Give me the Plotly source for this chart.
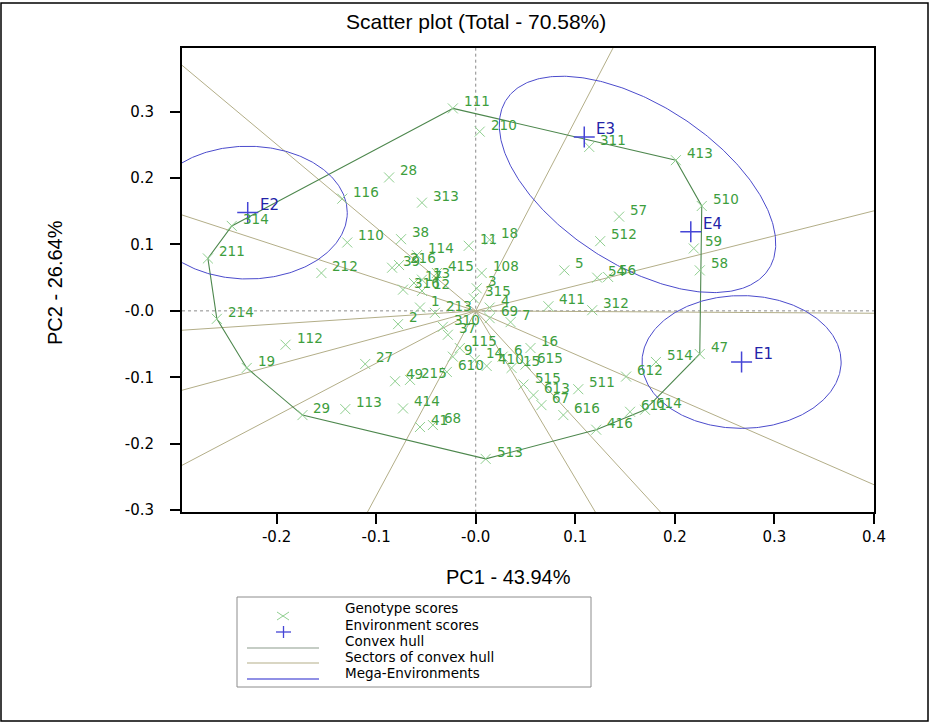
import numpy as np
import plotly.graph_objects as go

# ---------------------------------------------------------------- data
geno_labels = ["111", "210", "311", "413", "510", "57", "512", "59", "58", "5",
               "54", "56", "411", "312", "28", "116", "313", "314", "211", "110",
               "38", "114", "11", "18", "212", "214", "112", "19", "27", "29",
               "113", "49", "215", "414", "41", "68", "2", "1", "213", "310",
               "37", "115", "9", "610", "316", "17", "13", "12", "39", "216",
               "415", "108", "3", "315", "4", "69", "7", "16", "14", "410",
               "6", "15", "615", "515", "613", "67", "511", "616", "416", "612",
               "514", "47", "611", "614", "513"]
geno_pc1 = [-0.023, 0.004, 0.114, 0.201, 0.227, 0.144, 0.125, 0.219, 0.225, 0.089,
            0.122, 0.133, 0.073, 0.117, -0.087, -0.134, -0.054, -0.245, -0.269, -0.129,
            -0.075, -0.059, -0.007, 0.014, -0.155, -0.260, -0.191, -0.230, -0.111, -0.174,
            -0.131, -0.081, -0.066, -0.073, -0.056, -0.043, -0.078, -0.056, -0.041, -0.033,
            -0.028, -0.016, -0.023, -0.029, -0.073, -0.062, -0.054, -0.054, -0.084, -0.077,
            -0.039, 0.006, 0.001, -0.002, 0.014, 0.014, 0.035, 0.055, -0.001, 0.011,
            0.027, 0.036, 0.050, 0.048, 0.058, 0.066, 0.103, 0.088, 0.121, 0.151,
            0.181, 0.225, 0.155, 0.170, 0.010]
geno_pc2 = [0.305, 0.270, 0.247, 0.227, 0.158, 0.142, 0.105, 0.094, 0.061, 0.061,
            0.050, 0.051, 0.007, 0.001, 0.201, 0.169, 0.163, 0.128, 0.079, 0.103,
            0.108, 0.084, 0.098, 0.107, 0.057, -0.012, -0.051, -0.086, -0.080, -0.157,
            -0.148, -0.106, -0.104, -0.147, -0.175, -0.172, -0.020, 0.005, -0.003, -0.024,
            -0.036, -0.056, -0.069, -0.092, 0.032, 0.042, 0.047, 0.030, 0.065, 0.069,
            0.057, 0.057, 0.034, 0.019, 0.005, -0.011, -0.017, -0.056, -0.074, -0.083,
            -0.069, -0.086, -0.081, -0.111, -0.127, -0.142, -0.118, -0.157, -0.179, -0.099,
            -0.077, -0.065, -0.152, -0.149, -0.223]

env_labels = ["E1", "E2", "E3", "E4"]
env_pc1 = [0.267, -0.229, 0.109, 0.216]
env_pc2 = [-0.077, 0.148, 0.262, 0.119]

# genotypes at the vertices of the convex hull, in drawing order
hull_order = ["111", "413", "510", "47", "614", "416", "513", "29", "19", "214", "211", "314"]

# environments grouped into mega-environments
mega_groups = [["E1"], ["E2"], ["E3", "E4"]]
mega_radius = 0.1

x_tickvals = [-0.2, -0.1, 0.0, 0.1, 0.2, 0.3, 0.4]
x_ticktext = ["-0.2", "-0.1", "-0.0", "0.1", "0.2", "0.3", "0.4"]
y_tickvals = [-0.3, -0.2, -0.1, 0.0, 0.1, 0.2, 0.3]
y_ticktext = ["-0.3", "-0.2", "-0.1", "-0.0", "0.1", "0.2", "0.3"]

legend_items = ["Genotype scores", "Environment scores", "Convex hull",
                "Sectors of convex hull", "Mega-Environments"]

# ---------------------------------------------------------------- styling
W, H = 930, 724
ML, MR, MT, MB = 182, 56, 48, 212
PW, PH = W - ML - MR, H - MT - MB

GENO_MARK = "#8fcf8f"
GENO_TEXT = "#3d9e3d"
ENV_MARK = "#4545d6"
ENV_TEXT = "#2323a8"
HULL_COL = "#4d874d"
SECTOR_COL = "#b3ae88"
MEGA_COL = "#4b4bcc"
AXIS_DOT = "#8a8a8a"
SMALL_FONT = "DejaVu Sans"
BIG_FONT = "Liberation Sans, Arial, sans-serif"


def paper_x(px):
    return (px - ML) / PW


def paper_y(py):
    return (H - MB - py) / PH


def paper_line(x0, y0, x1, y1, color, width):
    return dict(type="line", xref="paper", yref="paper",
                x0=paper_x(x0), x1=paper_x(x1), y0=paper_y(y0), y1=paper_y(y1),
                line=dict(color=color, width=width))


fig = go.Figure()

# dotted reference axes through the origin
fig.add_trace(go.Scatter(x=[0, 0, None, -1, 1], y=[-1, 1, None, 0, 0], mode="lines",
                         line=dict(color=AXIS_DOT, width=1, dash="dot"),
                         hoverinfo="skip", showlegend=False))

# convex hull of genotype scores
idx = {lab: i for i, lab in enumerate(geno_labels)}
hx = [geno_pc1[idx[g]] for g in hull_order]
hy = [geno_pc2[idx[g]] for g in hull_order]

# sector rays: from the origin, perpendicular to each hull edge
sx, sy = [], []
n = len(hull_order)
for k in range(n):
    p = np.array([hx[k], hy[k]])
    q = np.array([hx[(k + 1) % n], hy[(k + 1) % n]])
    d = q - p
    t = -p.dot(d) / d.dot(d)
    foot = p + t * d
    u = foot / np.linalg.norm(foot)
    sx += [0.0, 3 * u[0], None]
    sy += [0.0, 3 * u[1], None]
fig.add_trace(go.Scatter(x=sx, y=sy, mode="lines",
                         line=dict(color=SECTOR_COL, width=1),
                         hoverinfo="skip", showlegend=False))

fig.add_trace(go.Scatter(x=hx + [hx[0]], y=hy + [hy[0]], mode="lines",
                         line=dict(color=HULL_COL, width=1.1),
                         hoverinfo="skip", showlegend=False))

# mega-environment outlines
eidx = {lab: i for i, lab in enumerate(env_labels)}
tt = np.linspace(0, 2 * np.pi, 400)
for grp in mega_groups:
    pts = np.array([[env_pc1[eidx[e]], env_pc2[eidx[e]]] for e in grp])
    c = pts.mean(axis=0)
    if len(pts) > 1:
        dv = pts[-1] - pts[0]
        a = np.linalg.norm(dv) / 2 + mega_radius
        ang = np.arctan2(dv[1], dv[0])
    else:
        a, ang = mega_radius, 0.0
    b = mega_radius
    ex = c[0] + a * np.cos(tt) * np.cos(ang) - b * np.sin(tt) * np.sin(ang)
    ey = c[1] + a * np.cos(tt) * np.sin(ang) + b * np.sin(tt) * np.cos(ang)
    fig.add_trace(go.Scatter(x=ex, y=ey, mode="lines",
                             line=dict(color=MEGA_COL, width=1),
                             hoverinfo="skip", showlegend=False))

# genotype and environment scores
fig.add_trace(go.Scatter(x=geno_pc1, y=geno_pc2, mode="markers", text=geno_labels,
                         marker=dict(symbol="x-thin", size=10,
                                     line=dict(color=GENO_MARK, width=1)),
                         showlegend=False))
fig.add_trace(go.Scatter(x=env_pc1, y=env_pc2, mode="markers", text=env_labels,
                         marker=dict(symbol="cross-thin", size=15,
                                     line=dict(color=ENV_MARK, width=1.5)),
                         showlegend=False))

annotations = []
for lab, x, y in zip(geno_labels, geno_pc1, geno_pc2):
    annotations.append(dict(x=x, y=y, xref="x", yref="y", text=lab, showarrow=False,
                            xanchor="left", yanchor="middle", xshift=9, yshift=7,
                            font=dict(family=SMALL_FONT, size=13.5, color=GENO_TEXT)))
for lab, x, y in zip(env_labels, env_pc1, env_pc2):
    annotations.append(dict(x=x, y=y, xref="x", yref="y", text=lab, showarrow=False,
                            xanchor="left", yanchor="middle", xshift=10, yshift=8,
                            font=dict(family=SMALL_FONT, size=15, color=ENV_TEXT)))

# titles
annotations.append(dict(x=paper_x(476), y=paper_y(22), xref="paper", yref="paper",
                        text="Scatter plot (Total - 70.58%)", showarrow=False,
                        xanchor="center", yanchor="middle",
                        font=dict(family=BIG_FONT, size=21, color="black")))
annotations.append(dict(x=paper_x(508), y=paper_y(577), xref="paper", yref="paper",
                        text="PC1 - 43.94%", showarrow=False,
                        xanchor="center", yanchor="middle",
                        font=dict(family=BIG_FONT, size=20, color="black")))
annotations.append(dict(x=paper_x(55), y=paper_y(283), xref="paper", yref="paper",
                        text="PC2 - 26.64%", showarrow=False, textangle=-90,
                        xanchor="center", yanchor="middle",
                        font=dict(family=BIG_FONT, size=20, color="black")))

# legend panel
leg_text_y = [608, 625, 641, 657, 673]
for txt, ty in zip(legend_items, leg_text_y):
    annotations.append(dict(x=paper_x(343), y=paper_y(ty), xref="paper", yref="paper",
                            text=txt, showarrow=False, xanchor="left", yanchor="middle",
                            font=dict(family=SMALL_FONT, size=13.5, color="black")))

shapes = [
    # outer frame of the figure
    dict(type="rect", xref="paper", yref="paper",
         x0=paper_x(1), x1=paper_x(928), y0=paper_y(721), y1=paper_y(3),
         line=dict(color="black", width=1.5)),
    # legend box
    dict(type="rect", xref="paper", yref="paper",
         x0=paper_x(237), x1=paper_x(591), y0=paper_y(687), y1=paper_y(597),
         line=dict(color="#8c8c8c", width=1)),
    # legend glyphs: genotype cross and environment plus
    paper_line(277, 612, 289, 620, GENO_MARK, 1),
    paper_line(277, 620, 289, 612, GENO_MARK, 1),
    paper_line(276, 632, 291, 632, ENV_MARK, 1.3),
    paper_line(283.5, 626, 283.5, 638, ENV_MARK, 1.3),
]
for ly, col, lw in [(648, "#8b9b8b", 1.2), (663, SECTOR_COL, 1.2), (679, "#6b6bdc", 1.6)]:
    shapes.append(paper_line(247, ly, 319, ly, col, lw))

fig.update_layout(
    width=W, height=H, autosize=False,
    margin=dict(l=ML, r=MR, t=MT, b=MB, pad=0),
    paper_bgcolor="white", plot_bgcolor="white",
    showlegend=False,
    annotations=annotations, shapes=shapes,
    xaxis=dict(range=[-0.295, 0.4], tickvals=x_tickvals, ticktext=x_ticktext,
               showgrid=False, zeroline=False, showline=True, linecolor="black",
               linewidth=2, mirror=True, ticks="outside", ticklen=10, tickwidth=2,
               tickcolor="black", automargin=False, ticklabelstandoff=0,
               tickfont=dict(family=SMALL_FONT, size=15, color="black")),
    yaxis=dict(range=[-0.303, 0.396], tickvals=y_tickvals, ticktext=y_ticktext,
               showgrid=False, zeroline=False, showline=True, linecolor="black",
               linewidth=2, mirror=True, ticks="outside", ticklen=10, tickwidth=2,
               tickcolor="black", automargin=False, ticklabelstandoff=13,
               tickfont=dict(family=SMALL_FONT, size=15, color="black")),
)

fig.write_html("out.html")
